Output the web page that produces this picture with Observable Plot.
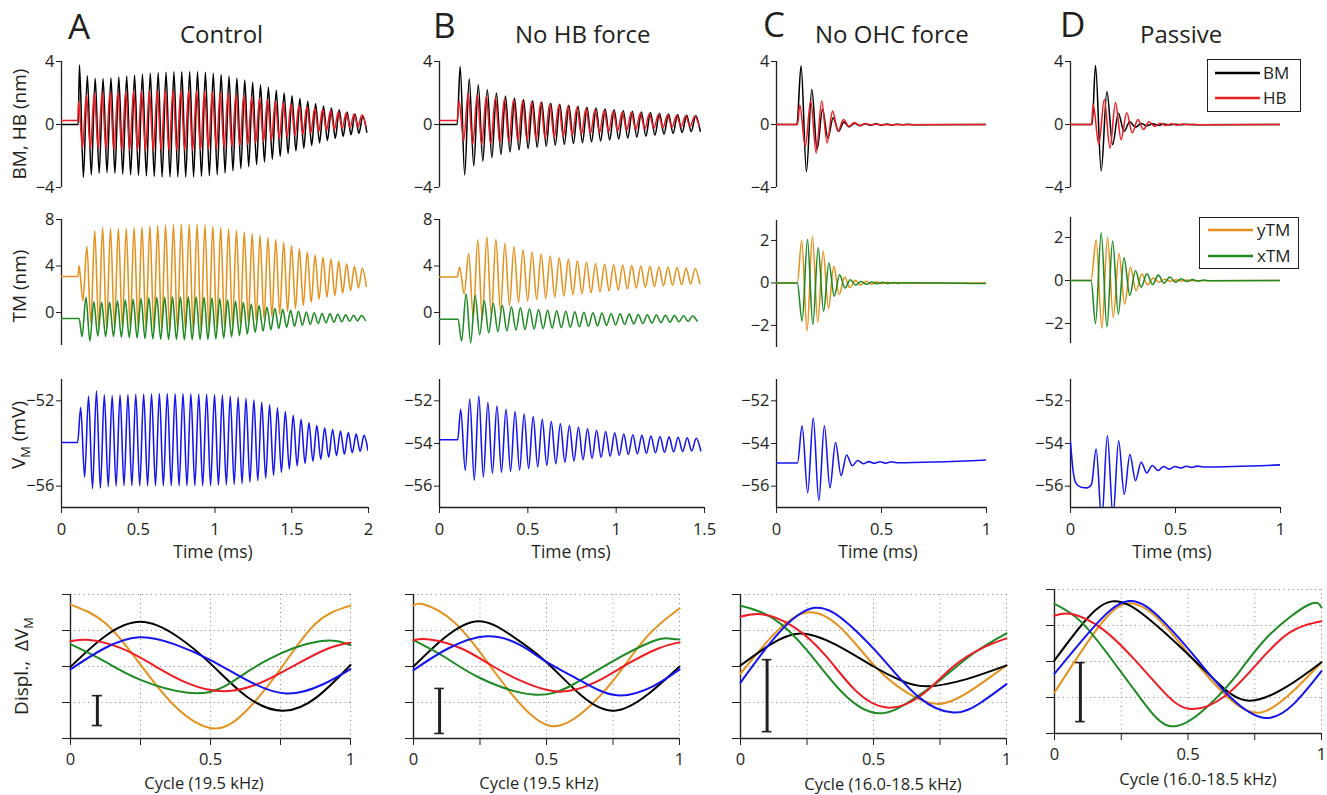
<!DOCTYPE html>
<html>
<head>
<meta charset="utf-8">
<script src="https://cdn.jsdelivr.net/npm/d3@7"></script>
<script src="https://cdn.jsdelivr.net/npm/@observablehq/plot@0.6"></script>
<style>
html,body{margin:0;padding:0;background:#fff;}
#fig{position:relative;width:1327px;height:795px;overflow:hidden;background:#fff;}
#fig svg{position:absolute;overflow:visible;}
</style>
</head>
<body>
<div id="fig"></div>
<script>
// ---------------- DATA ----------------
// Each time trace: timing = [baseline, onset time (ms), time of first extremum (ms), half period (ms)]
// and the successive extrema (alternating peaks/troughs).

// Column A — Control (0–2 ms)
const A_BM_timing = [0, 0.109, 0.117, 0.02564];
const A_BM = [3.79,-3.36, 3.1,-3.2, 2.93,-3.1, 2.92,-3.06, 2.96,-3.1, 3.02,-3.15, 3.08,-3.2, 3.14,-3.24, 3.2,-3.27, 3.25,-3.3,
  3.29,-3.32, 3.32,-3.33, 3.34,-3.33, 3.35,-3.33, 3.35,-3.32, 3.34,-3.3, 3.31,-3.25, 3.26,-3.18, 3.18,-3.08, 3.07,-2.95,
  2.95,-2.8, 2.82,-2.67, 2.68,-2.55, 2.52,-2.38, 2.36,-2.2, 2.18,-2.02, 2.0,-1.85, 1.82,-1.68, 1.65,-1.5, 1.48,-1.33,
  1.32,-1.17, 1.18,-1.02, 1.05,-0.88, 0.93,-0.76, 0.8,-0.65, 0.67,-0.56, 0.54,-0.48];
const A_HB_timing = [0.26, 0.107, 0.111, 0.02564];
const A_HB = [1.46,-1.5, 1.9,-1.55, 2.0,-1.55, 2.05,-1.58, 2.08,-1.6, 2.1,-1.62, 2.12,-1.64, 2.14,-1.65, 2.15,-1.66, 2.16,-1.67,
  2.17,-1.67, 2.17,-1.67, 2.17,-1.67, 2.17,-1.66, 2.16,-1.65, 2.15,-1.63, 2.13,-1.6, 2.1,-1.55, 2.05,-1.5, 2.0,-1.42,
  1.92,-1.35, 1.85,-1.27, 1.76,-1.18, 1.67,-1.09, 1.58,-1.0, 1.49,-0.9, 1.4,-0.8, 1.3,-0.7, 1.2,-0.62, 1.12,-0.54,
  1.03,-0.46, 0.95,-0.38, 0.87,-0.31, 0.8,-0.25, 0.73,-0.19, 0.67,-0.14, 0.62,-0.1];
const A_yTM_timing = [3.1, 0.108, 0.114, 0.02564];
const A_yTM = [4.05,1.0, 5.7,-0.9, 7.02,-1.25, 7.31,-1.3, 7.23,-1.25, 7.23,-1.2, 7.23,-1.2, 7.31,-1.25, 7.37,-1.3, 7.43,-1.35,
  7.49,-1.38, 7.52,-1.4, 7.55,-1.42, 7.57,-1.44, 7.57,-1.45, 7.57,-1.44, 7.52,-1.4, 7.43,-1.33, 7.31,-1.22, 7.2,-1.1,
  7.08,-0.97, 6.94,-0.83, 6.8,-0.68, 6.65,-0.52, 6.45,-0.33, 6.27,-0.15, 6.05,0.08, 5.78,0.33, 5.49,0.6, 5.2,0.88,
  4.95,1.14, 4.76,1.3, 4.6,1.45, 4.4,1.67, 4.19,1.88, 3.98,2.1, 3.8,2.25];
const A_xTM_timing = [-0.52, 0.115, 0.1336, 0.02564];
const A_xTM = [-2.08,1.3, -2.46,0.92, -2.02,0.87, -2.08,0.87, -2.08,1.0, -2.12,1.07, -2.15,1.13, -2.2,1.2, -2.24,1.25, -2.27,1.28,
  -2.3,1.3, -2.32,1.32, -2.33,1.33, -2.34,1.33, -2.34,1.32, -2.33,1.3, -2.31,1.25, -2.27,1.18, -2.2,1.08, -2.1,0.97,
  -1.98,0.85, -1.85,0.73, -1.72,0.6, -1.6,0.48, -1.48,0.37, -1.37,0.27, -1.27,0.18, -1.18,0.1, -1.1,0.03, -1.02,-0.03,
  -0.95,-0.08, -0.89,-0.12, -0.84,-0.16, -0.8,-0.2, -0.76,-0.23, -0.72,-0.26, -0.69];
const A_VM_timing = [-53.95, 0.105, 0.125, 0.02564];
const A_VM = [-52.31,-55.58, -51.77,-56.12, -51.53,-56.1, -51.72,-56.02, -51.75,-56.0, -51.72,-55.98, -51.7,-55.98, -51.69,-55.98, -51.68,-55.98, -51.67,-55.98,
  -51.66,-55.98, -51.66,-55.98, -51.66,-55.98, -51.66,-55.98, -51.67,-55.98, -51.68,-55.98, -51.69,-55.97, -51.7,-55.96, -51.73,-55.94, -51.77,-55.92,
  -51.82,-55.88, -51.88,-55.82, -51.95,-55.74, -52.05,-55.63, -52.18,-55.5, -52.32,-55.35, -52.5,-55.2, -52.68,-55.05, -52.87,-54.93, -53.03,-54.83,
  -53.16,-54.74, -53.26,-54.65, -53.34,-54.57, -53.42,-54.5, -53.49,-54.43, -53.56,-54.37, -53.62,-54.32];

// Column B — No HB force (0–1.5 ms)
const B_BM_timing = [0, 0.1, 0.117, 0.02564];
const B_BM = [3.68,-3.2, 2.9,-2.63, 2.53,-2.32, 2.2,-2.1, 2.0,-1.9, 1.8,-1.75, 1.68,-1.62, 1.58,-1.53, 1.5,-1.45, 1.42,-1.38,
  1.35,-1.32, 1.28,-1.26, 1.22,-1.2, 1.16,-1.15, 1.1,-1.1, 1.04,-1.04, 0.99,-0.98, 0.94,-0.92, 0.88,-0.86, 0.84,-0.8,
  0.8,-0.74, 0.76,-0.68, 0.72,-0.62, 0.67,-0.56, 0.63,-0.51, 0.59,-0.46, 0.56,-0.42];
const B_HB_timing = [0.26, 0.1, 0.111, 0.02564];
const B_HB = [1.47,-1.05, 2.0,-1.26, 1.9,-1.25, 1.8,-1.22, 1.7,-1.18, 1.62,-1.13, 1.55,-1.07, 1.5,-1.0, 1.45,-0.95, 1.38,-0.88,
  1.3,-0.82, 1.22,-0.76, 1.15,-0.7, 1.08,-0.63, 1.01,-0.57, 0.95,-0.52, 0.9,-0.47, 0.85,-0.42, 0.8,-0.37, 0.76,-0.32,
  0.72,-0.28, 0.68,-0.24, 0.64,-0.2, 0.6,-0.17, 0.57,-0.14, 0.54,-0.12, 0.52,-0.1];
const B_yTM_timing = [3.05, 0.1, 0.114, 0.02564];
const B_yTM = [3.92,1.6, 5.1,-0.44, 6.25,-0.58, 6.5,-0.3, 6.3,0.15, 5.96,0.58, 5.67,0.87, 5.4,1.0, 5.2,1.12, 5.02,1.23,
  4.86,1.33, 4.7,1.43, 4.57,1.53, 4.45,1.62, 4.33,1.7, 4.22,1.78, 4.15,1.86, 4.1,1.94, 4.06,2.02, 4.03,2.1,
  4.0,2.17, 3.97,2.23, 3.94,2.29, 3.91,2.35, 3.87,2.4, 3.83,2.45, 3.79,2.49];
const B_xTM_timing = [-0.58, 0.105, 0.125, 0.02564];
const B_xTM = [-2.47,1.6, -2.6,1.45, -1.9,1.0, -1.75,0.8, -1.65,0.62, -1.58,0.5, -1.52,0.4, -1.47,0.32, -1.43,0.26, -1.39,0.2,
  -1.35,0.15, -1.31,0.1, -1.27,0.06, -1.23,0.02, -1.19,-0.02, -1.15,-0.05, -1.11,-0.08, -1.07,-0.11, -1.03,-0.14, -0.99,-0.17,
  -0.95,-0.2, -0.91,-0.22, -0.87,-0.24, -0.83,-0.26, -0.8,-0.28, -0.77,-0.3, -0.74];
const B_VM_timing = [-53.82, 0.103, 0.12, 0.02564];
const B_VM = [-52.39,-55.26, -51.92,-55.72, -51.77,-55.57, -52.08,-55.4, -52.24,-55.35, -52.39,-55.3, -52.5,-55.25, -52.62,-55.18, -52.74,-55.1, -52.86,-55.02,
  -52.97,-54.95, -53.07,-54.88, -53.16,-54.82, -53.24,-54.76, -53.31,-54.7, -53.38,-54.65, -53.44,-54.6, -53.5,-54.56, -53.55,-54.52, -53.59,-54.49,
  -53.62,-54.46, -53.65,-54.43, -53.67,-54.41, -53.69,-54.39, -53.71,-54.37, -53.73,-54.35, -53.75,-54.34];

// Column C — No OHC force (0–1 ms)
const C_BM_timing = [0, 0.097, 0.117, 0.0255];
const C_BM = [3.73,-2.99, 2.24,-1.6, 0.96,-0.85, 0.43,-0.43, 0.15,-0.15, 0.08,-0.08, 0.05,-0.05, 0.04,-0.04, 0.03,-0.03, 0.02,-0.02, 0.015,-0.015];
const C_HB_timing = [0, 0.1, 0.111, 0.026];
const C_HB = [1.24,-1.39, 1.49,-1.81, 1.49,-1.17, 0.85,-0.43, 0.32,-0.12, 0.12,-0.06, 0.05,-0.03, 0.02,-0.01];
const C_yTM_timing = [0, 0.099, 0.12, 0.0255];
const C_yTM = [2.0,-2.27, 2.2,-1.85, 1.49,-1.2, 0.78,-0.55, 0.28,-0.22, 0.12,-0.1, 0.08,-0.06, 0.05,-0.04, 0.03,-0.02, 0.02,-0.01];
const C_xTM_timing = [0, 0.099, 0.122, 0.0255];
const C_xTM = [-1.8,2.04, -1.96,1.65, -1.33,0.94, -0.63,0.39, -0.24,0.15, -0.1,0.07, -0.06,0.04, -0.04,0.03, -0.03,0.02, -0.02,0.01];
const C_VM_timing = [-54.91, 0.1, 0.122, 0.0265];
const C_VM = [-53.17,-56.31, -52.81,-56.67, -53.17,-56.08, -53.95,-55.5, -54.54,-55.04, -54.8,-54.95, -54.85,-54.93, -54.86,-54.92, -54.86,-54.9];
const C_tails = {BM: [1, 0], HB: [1, 0], yTM: [1, 0], xTM: [1, -0.03], VM: [1, -54.77]};

// Column D — Passive (0–1 ms)
const D_BM_timing = [0, 0.103, 0.119, 0.0272];
const D_BM = [3.74,-2.95, 2.1,-1.28, 0.71,-0.43, 0.17,-0.17, 0.06,-0.08, 0.04,-0.05, 0.03,-0.03, 0.02,-0.02, 0.01,-0.01];
const D_HB_timing = [0, 0.1, 0.108, 0.0266];
const D_HB = [1.28,-1.28, 1.6,-1.5, 1.39,-0.96, 0.75,-0.53, 0.32,-0.32, 0.17,-0.12, 0.08,-0.06, 0.05,-0.04, 0.03,-0.02, 0.02,-0.01];
const D_yTM_timing = [0, 0.098, 0.122, 0.0272];
const D_yTM = [1.88,-2.23, 2.0,-1.72, 1.25,-1.1, 0.62,-0.47, 0.3,-0.2, 0.12,-0.08, 0.06,-0.04, 0.03,-0.02, 0.02,-0.01];
const D_xTM_timing = [0, 0.098, 0.119, 0.0272];
const D_xTM = [-2.0,2.22, -2.16,1.84, -1.56,1.06, -0.7,0.45, -0.31,0.31, -0.19,0.25, -0.13,0.16, -0.08,0.08, -0.05,0.04, -0.03,0.02, -0.01];
const D_VM_pre = [[0,-53.95],[0.012,-55.25],[0.025,-55.85],[0.05,-56.05],[0.08,-56.08],[0.1,-55.92]];
const D_VM_timing = [null, null, 0.122, 0.0268];
const D_VM = [-54.26,-57.6, -53.63,-57.4, -53.87,-56.39, -54.52,-55.74, -54.88,-55.38, -55.03,-55.27, -55.08,-55.2, -55.08,-55.15, -55.07,-55.12, -55.06,-55.1];
const D_tails = {BM: [1, 0], HB: [1, 0], yTM: [1, 0], xTM: [1, 0], VM: [1, -55.0]};

// One-cycle panels: [cycle, displacement (arbitrary units, 0–4 grid)]
const cycA_BM  = [[0,1.99],[0.12,2.82],[0.25,3.24],[0.38,2.84],[0.5,2.08],[0.63,1.16],[0.76,0.77],[0.88,1.15],[1,2.04]];
const cycA_HB  = [[0,2.7],[0.06,2.74],[0.18,2.51],[0.3,2.02],[0.42,1.53],[0.55,1.31],[0.68,1.55],[0.8,2.03],[0.92,2.5],[1,2.66]];
const cycA_yTM = [[0,3.72],[0.125,3.2],[0.25,2.05],[0.375,0.88],[0.51,0.28],[0.625,0.75],[0.75,1.93],[0.875,3.19],[1,3.69]];
const cycA_xTM = [[0,2.62],[0.12,2.15],[0.25,1.63],[0.42,1.27],[0.55,1.45],[0.7,2.17],[0.89,2.7],[1,2.59]];
const cycA_VM  = [[0,1.92],[0.12,2.5],[0.245,2.81],[0.37,2.62],[0.5,2.18],[0.63,1.62],[0.77,1.25],[0.9,1.5],[1,1.93]];
const cycB_BM  = [[0,2.0],[0.12,2.82],[0.245,3.26],[0.37,2.85],[0.5,2.12],[0.63,1.2],[0.755,0.77],[0.88,1.22],[1,2.0]];
const cycB_HB  = [[0,2.73],[0.06,2.75],[0.18,2.5],[0.3,2.0],[0.42,1.55],[0.55,1.3],[0.68,1.55],[0.8,2.05],[0.92,2.5],[1,2.67]];
const cycB_yTM = [[0,3.7],[0.04,3.72],[0.15,3.25],[0.27,2.2],[0.39,1.05],[0.515,0.35],[0.64,0.75],[0.76,1.7],[0.88,2.85],[1,3.61]];
const cycB_xTM = [[0,2.73],[0.12,2.25],[0.25,1.68],[0.45,1.22],[0.6,1.5],[0.75,2.15],[0.9,2.7],[0.96,2.78],[1,2.75]];
const cycB_VM  = [[0,1.9],[0.13,2.5],[0.275,2.84],[0.4,2.6],[0.5,2.13],[0.63,1.6],[0.765,1.2],[0.9,1.45],[1,1.92]];
const cycC_BM  = [[0,2.03],[0.11,2.6],[0.225,2.92],[0.36,2.6],[0.5,2.0],[0.6,1.62],[0.7,1.45],[0.85,1.65],[1,2.03]];
const cycC_HB  = [[0,3.38],[0.08,3.45],[0.2,3.1],[0.32,2.3],[0.43,1.35],[0.55,0.86],[0.68,1.2],[0.8,2.0],[0.92,2.55],[1,2.78]];
const cycC_yTM = [[0,1.8],[0.12,2.85],[0.25,3.5],[0.38,3.05],[0.5,2.05],[0.62,1.3],[0.745,0.96],[0.87,1.35],[1,2.03]];
const cycC_xTM = [[0,3.69],[0.12,3.35],[0.25,2.45],[0.38,1.3],[0.52,0.7],[0.65,1.1],[0.75,1.62],[0.875,2.36],[1,2.92]];
const cycC_VM  = [[0,1.55],[0.14,2.9],[0.28,3.63],[0.41,3.15],[0.54,2.17],[0.67,1.15],[0.8,0.72],[0.9,0.98],[1,1.51]];
const cycD_BM  = [[0,2.03],[0.1,3.0],[0.215,3.67],[0.35,3.2],[0.5,2.2],[0.62,1.35],[0.73,0.91],[0.87,1.3],[1,1.98]];
const cycD_HB  = [[0,3.27],[0.065,3.32],[0.18,2.9],[0.3,2.05],[0.41,1.15],[0.51,0.68],[0.64,1.05],[0.76,1.95],[0.88,2.8],[1,3.12]];
const cycD_yTM = [[0,1.14],[0.13,2.6],[0.265,3.6],[0.4,3.1],[0.52,2.05],[0.65,1.0],[0.77,0.58],[0.89,1.15],[1,1.98]];
const cycD_xTM = [[0,3.6],[0.1,3.1],[0.22,2.0],[0.33,0.9],[0.43,0.21],[0.55,0.6],[0.68,1.6],[0.8,2.7],[0.95,3.57],[1,3.5]];
const cycD_VM  = [[0,1.66],[0.14,2.9],[0.278,3.68],[0.41,3.1],[0.535,2.05],[0.66,1.0],[0.79,0.43],[0.9,0.85],[1,1.73]];
// Scale bars in the cycle panels: [cycle position, bottom, top]
const scaleBars = {A: [0.096, 0.36, 1.19], B: [0.098, 0.14, 1.39], C: [0.1, 0.19, 2.19], D: [0.097, 0.33, 1.97]};

// Tick labels / axis ticks
const ticksBM = [-4, 0, 4];
const ticksTM_AB = [0, 4, 8];
const ticksTM_CD = [-2, 0, 2];
const ticksVM_A = [-56, -52];
const ticksVM = [-56, -54, -52];
const timeTicksA = [0, 0.5, 1, 1.5, 2];
const timeTicksB = [0, 0.5, 1, 1.5];
const timeTicksCD = [0, 0.5, 1];
const cycleTicks = [0, 0.25, 0.5, 0.75, 1];
const cycleLabels = [0, 0.5, 1];
const gridLevels = [1, 2, 3, 4];

// ---------------- DRAWING ----------------
const FONT = "'Open Sans', 'DejaVu Sans', sans-serif";
const INK = "#231f20";
const COLORS = {BM: "#000000", HB: "#ee1c24", yTM: "#e5911e", xTM: "#1e8a24", VM: "#1414ee"};
const fig = document.getElementById("fig");
const fmt = d => d < 0 ? "\u2212" + Math.abs(d) : String(d);
const plotStyle = {background: "transparent", fontFamily: FONT, fontSize: "16.5px", color: INK, overflow: "visible"};

function series(timing, ext, extra = {}) {
  const [base, onset, t0, half] = timing;
  const pts = extra.pre ? extra.pre.map(([t, v]) => ({t, v})) : [{t: 0, v: base}, {t: onset, v: base}];
  ext.forEach((v, i) => pts.push({t: t0 + i * half, v}));
  if (extra.tail) pts.push({t: extra.tail[0], v: extra.tail[1]});
  return pts;
}

function place(svg, x0, y0, mL, mT) {
  svg.style.left = (x0 - mL) + "px";
  svg.style.top = (y0 - mT) + "px";
  fig.appendChild(svg);
}

function timePanel({box: [x0, x1, y0, y1], xdom, ydom, yticks, xticks, lines}) {
  const mL = 50, mR = 10, mT = 10, mB = xticks ? 40 : 10;
  const marks = [
    Plot.ruleX([xdom[0]], {stroke: INK, strokeWidth: 1.3}),
    Plot.axisY({ticks: yticks, tickSize: 5, tickPadding: 2, tickFormat: fmt, label: null})
  ];
  if (xticks) marks.push(
    Plot.ruleY([ydom[0]], {stroke: INK, strokeWidth: 1.3}),
    Plot.axisX({ticks: xticks, tickSize: 6, tickPadding: 10, tickFormat: fmt, label: null})
  );
  for (const [data, color] of lines)
    marks.push(Plot.line(data, {x: "t", y: "v", stroke: color, strokeWidth: 1.55, curve: "monotone-x", clip: true}));
  const svg = Plot.plot({
    width: x1 - x0 + mL + mR, height: y1 - y0 + mT + mB,
    marginLeft: mL, marginRight: mR, marginTop: mT, marginBottom: mB,
    x: xticks ? {domain: xdom} : {domain: xdom, axis: null},
    y: {domain: ydom},
    style: plotStyle, marks
  });
  place(svg, x0, y0, mL, mT);
}

function cyclePanel({box: [x0, x1, y0, y1], lines, bar}) {
  const mL = 30, mR = 10, mT = 10, mB = 40;
  const grid = {stroke: "#8a8a8a", strokeWidth: 1, strokeDasharray: "1,3.5"};
  const marks = [
    Plot.ruleY(gridLevels, grid),
    Plot.ruleX(cycleTicks.slice(1), grid),
    Plot.ruleX([0], {stroke: INK, strokeWidth: 1.4}),
    Plot.ruleY([0], {stroke: INK, strokeWidth: 1.4}),
    Plot.axisY({ticks: [0, ...gridLevels], tickSize: 8, tickFormat: () => "", label: null}),
    Plot.axisX({ticks: cycleTicks, tickSize: 7, tickPadding: 8, tickFormat: d => cycleLabels.includes(d) ? String(d) : "", label: null})
  ];
  for (const [data, color] of lines)
    marks.push(Plot.line(data, {x: d => d[0], y: d => d[1], stroke: color, strokeWidth: 2, curve: "natural"}));
  marks.push(
    Plot.ruleX([bar], {x: d => d[0], y1: d => d[1], y2: d => d[2], stroke: INK, strokeWidth: 3}),
    Plot.ruleY([bar[1], bar[2]], {y: d => d, x1: bar[0] - 0.018, x2: bar[0] + 0.018, stroke: INK, strokeWidth: 1.6})
  );
  const svg = Plot.plot({
    width: x1 - x0 + mL + mR, height: y1 - y0 + mT + mB,
    marginLeft: mL, marginRight: mR, marginTop: mT, marginBottom: mB,
    x: {domain: [0, 1]}, y: {domain: [0, 4]},
    style: plotStyle, marks
  });
  place(svg, x0, y0, mL, mT);
}

// Column A
timePanel({box: [61, 368, 61, 187], xdom: [0, 2], ydom: [-4, 4], yticks: ticksBM,
  lines: [[series(A_BM_timing, A_BM), COLORS.BM], [series(A_HB_timing, A_HB), COLORS.HB]]});
timePanel({box: [61, 368, 219, 345], xdom: [0, 2], ydom: [-2.84, 8], yticks: ticksTM_AB,
  lines: [[series(A_yTM_timing, A_yTM), COLORS.yTM], [series(A_xTM_timing, A_xTM), COLORS.xTM]]});
timePanel({box: [61, 368, 379, 507], xdom: [0, 2], ydom: [-57, -51], yticks: ticksVM_A, xticks: timeTicksA,
  lines: [[series(A_VM_timing, A_VM), COLORS.VM]]});
// Column B
timePanel({box: [439, 704, 61, 187], xdom: [0, 1.5], ydom: [-4, 4], yticks: ticksBM,
  lines: [[series(B_BM_timing, B_BM), COLORS.BM], [series(B_HB_timing, B_HB), COLORS.HB]]});
timePanel({box: [439, 704, 219, 345], xdom: [0, 1.5], ydom: [-2.84, 8], yticks: ticksTM_AB,
  lines: [[series(B_yTM_timing, B_yTM), COLORS.yTM], [series(B_xTM_timing, B_xTM), COLORS.xTM]]});
timePanel({box: [439, 704, 379, 507], xdom: [0, 1.5], ydom: [-57, -51], yticks: ticksVM, xticks: timeTicksB,
  lines: [[series(B_VM_timing, B_VM), COLORS.VM]]});
// Column C
timePanel({box: [776, 986, 61, 187], xdom: [0, 1], ydom: [-4, 4], yticks: ticksBM,
  lines: [[series(C_BM_timing, C_BM, {tail: C_tails.BM}), COLORS.BM], [series(C_HB_timing, C_HB, {tail: C_tails.HB}), COLORS.HB]]});
timePanel({box: [776, 986, 220, 347], xdom: [0, 1], ydom: [-3.04, 2.94], yticks: ticksTM_CD,
  lines: [[series(C_yTM_timing, C_yTM, {tail: C_tails.yTM}), COLORS.yTM], [series(C_xTM_timing, C_xTM, {tail: C_tails.xTM}), COLORS.xTM]]});
timePanel({box: [776, 986, 379, 507], xdom: [0, 1], ydom: [-57, -51], yticks: ticksVM, xticks: timeTicksCD,
  lines: [[series(C_VM_timing, C_VM, {tail: C_tails.VM}), COLORS.VM]]});
// Column D
timePanel({box: [1070, 1280, 61, 187], xdom: [0, 1], ydom: [-4, 4], yticks: ticksBM,
  lines: [[series(D_BM_timing, D_BM, {tail: D_tails.BM}), COLORS.BM], [series(D_HB_timing, D_HB, {tail: D_tails.HB}), COLORS.HB]]});
timePanel({box: [1070, 1280, 217, 343], xdom: [0, 1], ydom: [-2.93, 2.93], yticks: ticksTM_CD,
  lines: [[series(D_yTM_timing, D_yTM, {tail: D_tails.yTM}), COLORS.yTM], [series(D_xTM_timing, D_xTM, {tail: D_tails.xTM}), COLORS.xTM]]});
timePanel({box: [1070, 1280, 379, 507], xdom: [0, 1], ydom: [-57, -51], yticks: ticksVM, xticks: timeTicksCD,
  lines: [[series(D_VM_timing, D_VM, {pre: D_VM_pre, tail: D_tails.VM}), COLORS.VM]]});

// Cycle panels
const cyc = (bm, hb, ytm, xtm, vm) => [[ytm, COLORS.yTM], [bm, COLORS.BM], [xtm, COLORS.xTM], [hb, COLORS.HB], [vm, COLORS.VM]];
cyclePanel({box: [70, 350, 594, 738], bar: scaleBars.A, lines: cyc(cycA_BM, cycA_HB, cycA_yTM, cycA_xTM, cycA_VM)});
cyclePanel({box: [413, 679, 594, 738], bar: scaleBars.B, lines: cyc(cycB_BM, cycB_HB, cycB_yTM, cycB_xTM, cycB_VM)});
cyclePanel({box: [740, 1006, 594, 738], bar: scaleBars.C, lines: cyc(cycC_BM, cycC_HB, cycC_yTM, cycC_xTM, cycC_VM)});
cyclePanel({box: [1054, 1321, 589, 733], bar: scaleBars.D, lines: cyc(cycD_BM, cycD_HB, cycD_yTM, cycD_xTM, cycD_VM)});

// ---------------- TEXT OVERLAY ----------------
const ov = d3.select(fig).append("svg")
  .attr("width", 1327).attr("height", 795)
  .style("left", "0px").style("top", "0px")
  .attr("font-family", FONT).attr("fill", INK);
function txt(s, x, y, size, anchor = "start") {
  return ov.append("text").attr("x", x).attr("y", y).attr("font-size", size).attr("text-anchor", anchor).text(s);
}
// panel letters & titles
txt("A", 68, 39, 35); txt("Control", 180, 43, 24);
txt("B", 433, 38, 35); txt("No HB force", 515, 43, 24);
txt("C", 763, 37, 35); txt("No OHC force", 815, 43, 24);
txt("D", 1060, 37, 35); txt("Passive", 1140, 43, 24);
// rotated y titles
function ylab(parts, x, y, size) {
  const t = ov.append("text").attr("transform", `translate(${x},${y}) rotate(-90)`)
    .attr("text-anchor", "middle").attr("font-size", size);
  for (const [s, sub] of parts) {
    const sp = t.append("tspan").text(s);
    if (sub === 1) sp.attr("font-size", size * 0.68).attr("dy", 5);
    if (sub === -1) sp.attr("dy", -5);
  }
}
ylab([["BM, HB (nm)"]], 26, 124, 19);
ylab([["TM (nm)"]], 26, 286, 19);
ylab([["V"], ["M", 1], [" (mV)", -1]], 25, 435, 19);
ylab([["Displ.,\u00a0\u00a0\u0394V"], ["M", 1]], 28, 666, 19);
// x titles
txt("Time (ms)", 213, 558, 17.5, "middle");
txt("Time (ms)", 571, 558, 17.5, "middle");
txt("Time (ms)", 878, 558, 17.5, "middle");
txt("Time (ms)", 1172, 558, 17.5, "middle");
txt("Cycle (19.5 kHz)", 204, 789, 16.5, "middle");
txt("Cycle (19.5 kHz)", 539, 789, 16.5, "middle");
txt("Cycle (16.0-18.5 kHz)", 883, 790, 16.5, "middle");
txt("Cycle (16.0-18.5 kHz)", 1198, 785, 16.5, "middle");
// legends
function legend(x, y, w, h, items) {
  ov.append("rect").attr("x", x + 0.5).attr("y", y + 0.5).attr("width", w).attr("height", h)
    .attr("fill", "#fff").attr("stroke", INK).attr("stroke-width", 1);
  for (const [label, color, lx1, lx2, ly, tx] of items) {
    ov.append("line").attr("x1", lx1).attr("x2", lx2).attr("y1", ly).attr("y2", ly)
      .attr("stroke", color).attr("stroke-width", 2.6);
    txt(label, tx, ly + 6, 17);
  }
}
legend(1207, 59, 93, 52, [["BM", COLORS.BM, 1215, 1260, 73, 1263], ["HB", COLORS.HB, 1215, 1260, 98, 1263]]);
legend(1199, 217, 99, 51, [["yTM", COLORS.yTM, 1208, 1253, 230, 1257], ["xTM", COLORS.xTM, 1208, 1253, 256, 1257]]);
</script>
</body>
</html>
